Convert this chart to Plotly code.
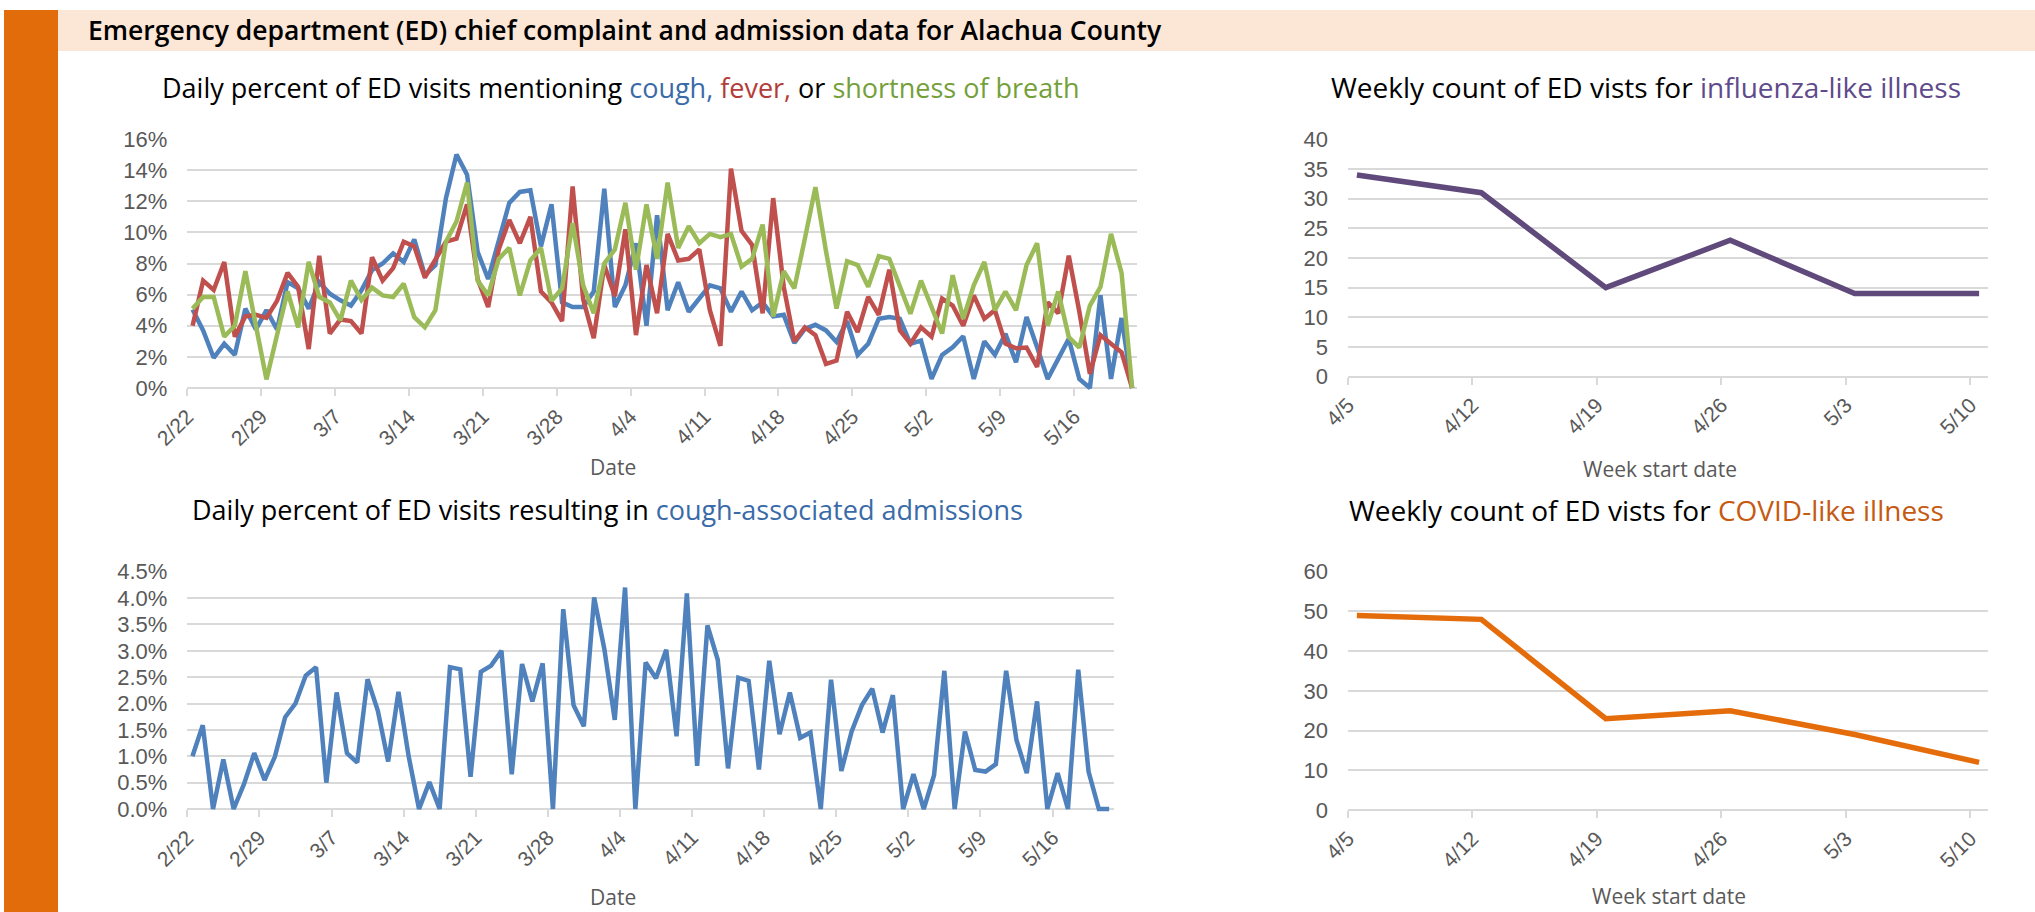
import pandas as pd
import plotly.graph_objects as go

W, H = 2035, 912

# ---------------- data ----------------
dates = pd.date_range("2020-02-22", periods=90, freq="D")
daily_tick_labels = ["2/22", "2/29", "3/7", "3/14", "3/21", "3/28", "4/4",
                     "4/11", "4/18", "4/25", "5/2", "5/9", "5/16"]

cough = [5.05, 3.7, 1.94, 2.84, 2.13, 5.1, 3.76, 5.0, 3.76, 6.8,
         6.4, 5.1, 6.8, 6.06, 5.63, 5.3, 6.28, 7.57, 8.0, 8.65,
         8.1, 9.55, 7.25, 7.9, 12.2, 15.0, 13.7, 8.75, 7.0, 9.5,
         11.9, 12.6, 12.7, 9.1, 11.8, 5.5, 5.2, 5.2, 6.2, 12.8,
         5.2, 6.6, 9.3, 4.0, 11.1, 5.0, 6.8, 4.9, 5.7, 6.6,
         6.4, 4.9, 6.2, 5.0, 5.5, 4.6, 4.7, 2.9, 3.8, 4.06,
         3.7, 2.96, 4.3, 2.13, 2.84, 4.45, 4.56, 4.45, 2.84, 3.05,
         0.58, 2.13, 2.62, 3.33, 0.58, 2.99, 2.13, 3.48, 1.66, 4.56,
         2.62, 0.58, 1.87, 3.16, 0.58, 0.0, 5.96, 0.58, 4.5, 0.0]

fever = [4.0, 6.9, 6.3, 8.1, 3.3, 4.6, 4.7, 4.5, 5.6, 7.4,
         6.5, 2.5, 8.5, 3.5, 4.4, 4.3, 3.5, 8.4, 6.9, 7.7,
         9.4, 9.1, 7.1, 8.3, 9.4, 9.6, 11.8, 7.0, 5.2, 8.9,
         10.8, 9.3, 11.0, 6.2, 5.5, 4.3, 12.95, 5.7, 3.2, 7.9,
         5.9, 10.2, 3.4, 7.9, 4.8, 9.9, 8.2, 8.3, 8.9, 5.0,
         2.7, 14.1, 10.1, 9.2, 4.8, 12.2, 6.5, 3.0, 3.9, 3.4,
         1.55, 1.76, 4.9, 3.6, 5.85, 4.7, 7.6, 3.7, 2.85, 3.9,
         3.3, 5.75, 5.3, 4.0, 5.95, 4.45, 5.0, 2.85, 2.55, 2.6,
         1.35, 5.5, 4.8, 8.5, 4.9, 0.9, 3.4, 2.85, 2.3, 0.0]

shortness_of_breath = [5.1, 5.85, 5.85, 3.3, 4.0, 7.5, 4.0, 0.55, 3.4, 6.2,
                       3.9, 8.1, 5.85, 5.5, 4.35, 6.9, 5.65, 6.45, 5.95, 5.85,
                       6.7, 4.55, 3.9, 5.0, 9.4, 10.7, 13.2, 6.9, 5.95, 8.3,
                       9.0, 5.95, 8.2, 9.0, 5.6, 6.4, 10.6, 6.6, 4.8, 8.0,
                       8.9, 11.9, 7.6, 11.8, 8.3, 13.2, 9.0, 10.4, 9.3, 9.9,
                       9.7, 9.9, 7.8, 8.3, 10.5, 4.6, 7.5, 6.4, 9.6, 12.9,
                       8.8, 5.1, 8.15, 7.9, 6.5, 8.47, 8.3, 6.6, 4.77, 6.9,
                       5.2, 3.5, 7.25, 4.45, 6.6, 8.1, 5.0, 6.2, 5.0, 7.9,
                       9.3, 4.0, 6.2, 3.27, 2.6, 5.3, 6.5, 9.9, 7.4, 0.0]

cough_admissions = [1.0, 1.59, 0.0, 0.94, 0.0, 0.47, 1.06, 0.55, 0.99, 1.74,
                    2.0, 2.53, 2.69, 0.5, 2.21, 1.06, 0.88, 2.46, 1.86, 0.9,
                    2.22, 0.99, 0.0, 0.51, 0.0, 2.69, 2.65, 0.61, 2.6, 2.72,
                    3.0, 0.66, 2.75, 2.04, 2.76, 0.0, 3.79, 1.97, 1.57, 4.01,
                    3.02, 1.69, 4.2, 0.0, 2.78, 2.48, 3.02, 1.38, 4.09, 0.82,
                    3.48, 2.83, 0.77, 2.49, 2.43, 0.75, 2.81, 1.42, 2.21, 1.35,
                    1.45, 0.0, 2.45, 0.72, 1.47, 1.97, 2.28, 1.45, 2.16, 0.0,
                    0.66, 0.0, 0.64, 2.62, 0.0, 1.47, 0.74, 0.71, 0.85, 2.62,
                    1.31, 0.68, 2.04, 0.0, 0.68, 0.0, 2.64, 0.71, 0.0, 0.0]

weeks = ["2020-04-05", "2020-04-12", "2020-04-19", "2020-04-26", "2020-05-03", "2020-05-10"]
week_labels = ["4/5", "4/12", "4/19", "4/26", "5/3", "5/10"]
ili_counts = [34, 31, 15, 23, 14, 14]
cli_counts = [49, 48, 23, 25, 19, 12]

# ---------------- styling ----------------
FONT = "Liberation Sans, Arial, sans-serif"
TFONT = "Open Sans, Liberation Sans, sans-serif"
GRID = "#D9D9D9"
TICKC = "#595959"
BLUE, RED, GREEN = "#4F81BD", "#C0504D", "#9BBB59"
PURPLE, ORANGE = "#604A7B", "#E46C0A"


def px_x(a, b):
    return [a / W, b / W]


def y_setup(y0px, ytop_px, vtop, pad=3):
    dom = [1 - (y0px + pad) / H, 1 - ytop_px / H]
    vmin = -pad * vtop / (y0px - ytop_px)
    return dom, [vmin, vtop], 1 - y0px / H


fig = go.Figure()

fig.add_trace(go.Scatter(x=dates, y=cough, mode="lines", line=dict(color=BLUE, width=4.5),
                         xaxis="x", yaxis="y", name="cough"))
fig.add_trace(go.Scatter(x=dates, y=fever, mode="lines", line=dict(color=RED, width=4.5),
                         xaxis="x", yaxis="y", name="fever"))
fig.add_trace(go.Scatter(x=dates, y=shortness_of_breath, mode="lines", line=dict(color=GREEN, width=4.5),
                         xaxis="x", yaxis="y", name="shortness of breath"))
fig.add_trace(go.Scatter(x=dates, y=cough_admissions, mode="lines", line=dict(color=BLUE, width=4.5),
                         xaxis="x2", yaxis="y2", name="cough-associated admissions"))
fig.add_trace(go.Scatter(x=weeks, y=ili_counts, mode="lines", line=dict(color=PURPLE, width=5.5),
                         xaxis="x3", yaxis="y3", name="ILI"))
fig.add_trace(go.Scatter(x=weeks, y=cli_counts, mode="lines", line=dict(color=ORANGE, width=5.5),
                         xaxis="x4", yaxis="y4", name="CLI"))

daily_ticks = pd.date_range("2020-02-21 12:00", periods=len(daily_tick_labels), freq="7D")
weekly_ticks = pd.date_range("2020-04-04 12:00", periods=len(week_labels), freq="7D")
daily_range = ["2020-02-21 12:00", "2020-05-21 12:00"]
weekly_range = ["2020-04-04 12:00", "2020-05-10 12:00"]


def xaxis(dom, rng, tickvals, ticktext, pos):
    return dict(domain=dom, range=rng, type="date", tickmode="array", tickvals=tickvals,
                ticktext=ticktext, tickangle=-45, ticks="outside", ticklen=7, tickwidth=1.5,
                tickcolor=GRID, showgrid=False, showline=False, zeroline=False,
                anchor="free", position=pos, automargin=False,
                tickfont=dict(family=FONT, size=21, color=TICKC), fixedrange=True)


def yaxis(dom, rng, dtick, suffix, fmt, anchor_x):
    return dict(domain=dom, range=rng, dtick=dtick, tick0=0, ticksuffix=suffix, tickformat=fmt,
                showgrid=True, gridcolor=GRID, gridwidth=1.5, zeroline=True, zerolinecolor=GRID,
                zerolinewidth=1.5, showline=False, ticks="", ticklabelstandoff=19,
                anchor=anchor_x, automargin=False,
                tickfont=dict(family=FONT, size=22, color=TICKC), fixedrange=True)


d1, r1, p1 = y_setup(388, 139, 16)
d2, r2, p2 = y_setup(809, 571.7, 4.5)
d3, r3, p3 = y_setup(376.7, 139.3, 40)
d4, r4, p4 = y_setup(810, 571.7, 60)

fig.update_layout(
    xaxis=xaxis(px_x(187.3, 1137.4), daily_range, daily_ticks, daily_tick_labels, p1),
    yaxis=yaxis(d1, r1, 2, "%", "d", "x"),
    xaxis2=xaxis(px_x(187.3, 1114.3), daily_range, daily_ticks, daily_tick_labels, p2),
    yaxis2=yaxis(d2, r2, 0.5, "%", ".1f", "x2"),
    xaxis3=xaxis(px_x(1348, 1988), weekly_range, weekly_ticks, week_labels, p3),
    yaxis3=yaxis(d3, r3, 5, "", "d", "x3"),
    xaxis4=xaxis(px_x(1348, 1988), weekly_range, weekly_ticks, week_labels, p4),
    yaxis4=yaxis(d4, r4, 10, "", "d", "x4"),
)

fig.add_shape(type="rect", xref="paper", yref="paper", x0=4 / W, x1=58 / W, y0=0, y1=1 - 10 / H,
              fillcolor="#E36C0A", line=dict(width=0), layer="below")
fig.add_shape(type="rect", xref="paper", yref="paper", x0=58 / W, x1=1, y0=1 - 51 / H, y1=1 - 10 / H,
              fillcolor="#FCE6D6", line=dict(width=0), layer="below")


def ann(text, xpx, ypx, size, color="#000000", family=TFONT, anchor="center", weight=None):
    f = dict(family=family, size=size, color=color)
    if weight:
        f["weight"] = weight
    fig.add_annotation(text=text, x=xpx / W, y=1 - ypx / H, xref="paper", yref="paper",
                       xanchor=anchor, yanchor="middle", showarrow=False, font=f)


ann("Emergency department (ED) chief complaint and admission data for Alachua County",
    86, 30, 26.5, anchor="left", weight=600)
ann("Daily percent of ED visits mentioning <span style='color:#3A6BA8'>cough,</span> "
    "<span style='color:#B33C39'>fever,</span> or <span style='color:#74A03A'>shortness of breath</span>",
    620, 88, 27)
ann("Daily percent of ED visits resulting in <span style='color:#3A6BA8'>cough-associated admissions</span>",
    607, 509, 27)
ann("Weekly count of ED vists for <span style='color:#5F4B8B'>influenza-like illness</span>",
    1646, 87, 28)
ann("Weekly count of ED vists for <span style='color:#C55A11'>COVID-like illness</span>",
    1646, 510, 28)
ann("Date", 613, 467, 21, color=TICKC)
ann("Date", 613, 897, 21, color=TICKC)
ann("Week start date", 1660, 469, 21, color=TICKC)
ann("Week start date", 1669, 896, 21, color=TICKC)

fig.update_layout(width=W, height=H,
                  margin=dict(l=0, r=0, t=0, b=0, pad=0, autoexpand=False),
                  paper_bgcolor="white", plot_bgcolor="white", showlegend=False,
                  font=dict(family=FONT))

fig.write_html("out.html", config={"displayModeBar": False},
               post_script="document.documentElement.style.margin='0';"
                           "document.body.style.margin='0';document.body.style.padding='0';"
                           "document.body.style.overflow='hidden';")
